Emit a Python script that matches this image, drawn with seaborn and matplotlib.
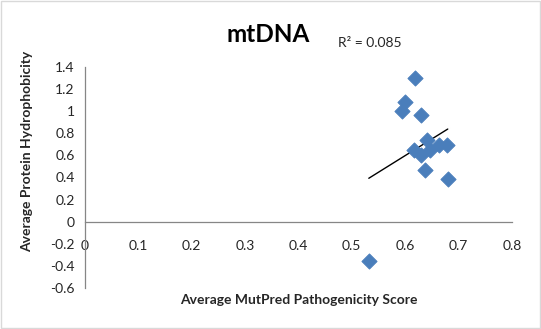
import numpy as np
import pandas as pd
import matplotlib
matplotlib.use("Agg")
import matplotlib.pyplot as plt
from matplotlib.patches import Rectangle
import seaborn as sns

# values
mutpred = [0.532, 0.618, 0.600, 0.594, 0.630, 0.642, 0.617, 0.629,
           0.647, 0.663, 0.678, 0.638, 0.680]
hydro = [-0.353, 1.300, 1.086, 0.998, 0.962, 0.742, 0.652, 0.600,
         0.645, 0.694, 0.694, 0.471, 0.386]
x_ticks = [0, 0.1, 0.2, 0.3, 0.4, 0.5, 0.6, 0.7, 0.8]
y_ticks = [-0.6, -0.4, -0.2, 0, 0.2, 0.4, 0.6, 0.8, 1, 1.2, 1.4]
r2_text = "R² = 0.085"

df = pd.DataFrame({"score": mutpred, "hydro": hydro})

sns.set_style("white")
plt.rcParams["font.family"] = ["Lato", "DejaVu Sans"]

fig = plt.figure(figsize=(5.41, 3.29), dpi=100)
ax = fig.add_axes([0.157, 0.1246, 0.789, 0.6718])

sns.regplot(data=df, x="score", y="hydro", scatter=False, ci=None,
            truncate=True, ax=ax, line_kws={"color": "black", "lw": 1})
sns.scatterplot(data=df, x="score", y="hydro", marker="D", s=60,
                color="#4a7ebb", edgecolor="#4a7ebb", ax=ax, zorder=3)

ax.set_xlim(0, 0.8)
ax.set_ylim(-0.6, 1.4)
ax.set_xticks(x_ticks)
ax.set_xticklabels(["0" if v == 0 else f"{v:g}" for v in x_ticks])
ax.set_yticks(y_ticks)
ax.set_yticklabels([f"{v:g}" for v in y_ticks])

for s in ["top", "right"]:
    ax.spines[s].set_visible(False)
ax.spines["bottom"].set_position(("data", 0))
for s in ["left", "bottom"]:
    ax.spines[s].set_color("#868686")
    ax.spines[s].set_linewidth(0.9)
ax.tick_params(axis="both", direction="out", length=4, width=0.9,
               color="#868686", labelsize=10, labelcolor="#262626")
ax.tick_params(axis="x", pad=9)

ax.set_xlabel("")
ax.set_ylabel("")
fig.text(0.552, 0.088, "Average MutPred Pathogenicity Score", ha="center",
         va="center", fontsize=10, fontweight="bold", color="#262626")
fig.text(0.05, 0.54, "Average Protein Hydrophobicity", ha="center",
         va="center", rotation=90, fontsize=10, fontweight="bold",
         color="#262626")
fig.text(0.496, 0.895, "mtDNA", ha="center", va="center", fontsize=17.5,
         fontweight="bold", color="black")
fig.text(0.625, 0.868, r2_text, ha="left", va="center", fontsize=10,
         color="#262626")

fig.patches.append(Rectangle((0.002, 0.003), 0.996, 0.994, transform=fig.transFigure,
                             fill=False, edgecolor="#d9d9d9", lw=1))

fig.savefig("out.png", dpi=100)
